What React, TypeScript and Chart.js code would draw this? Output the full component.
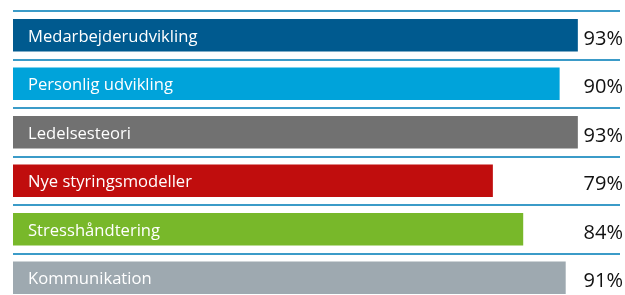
import React, { useEffect, useRef } from "react";
import { Chart, registerables } from "chart.js";

Chart.register(...registerables);

const categories = [
  "Medarbejderudvikling",
  "Personlig udvikling",
  "Ledelsesteori",
  "Nye styringsmodeller",
  "Stresshåndtering",
  "Kommunikation",
];
const values = [93, 90, 93, 79, 84, 91];
const barColors = ["#005a8f", "#00a3da", "#717171", "#c00d0d", "#78b82a", "#9ea9b0"];

const labelPlugin = {
  id: "barLabels",
  afterDatasetsDraw(chart: any) {
    const ctx = chart.ctx;
    const meta = chart.getDatasetMeta(0);
    const area = chart.chartArea;
    ctx.save();
    meta.data.forEach((bar: any, i: number) => {
      ctx.font = '16.6px "Open Sans"';
      ctx.fillStyle = "#ffffff";
      ctx.textAlign = "left";
      ctx.textBaseline = "middle";
      ctx.fillText(categories[i], area.left + 15, bar.y + 2);
      ctx.font = '20px "Open Sans"';
      ctx.fillStyle = "#111111";
      ctx.textAlign = "right";
      ctx.fillText(values[i] + "%", 623, bar.y + 4);
    });
    ctx.restore();
  },
};

export default function App() {
  const ref = useRef<HTMLCanvasElement>(null);
  useEffect(() => {
    if (!ref.current) return;
    const chart = new Chart(ref.current, {
      type: "bar",
      data: {
        labels: categories,
        datasets: [
          {
            data: values,
            backgroundColor: barColors,
            barThickness: 32,
            borderWidth: 0,
          },
        ],
      },
      options: {
        indexAxis: "y",
        animation: false,
        responsive: false,
        maintainAspectRatio: false,
        layout: { padding: { left: 13, right: 5, top: 11, bottom: 8 } },
        plugins: { legend: { display: false }, tooltip: { enabled: false } },
        scales: {
          x: { display: false, min: 0, max: 100 },
          y: {
            display: true,
            ticks: { display: false },
            border: { display: false },
            grid: { color: "#3b9bc8", lineWidth: 2, drawTicks: false, offset: true },
            afterFit(scale: any) {
              scale.width = 0;
            },
          },
        },
      },
      plugins: [labelPlugin],
    });
    return () => chart.destroy();
  }, []);
  return (
    <div style={{ position: "fixed", left: 0, top: 0, width: 625, height: 310, background: "#fff" }}>
      <canvas ref={ref} width={625} height={310} style={{ width: 625, height: 310 }} />
    </div>
  );
}
